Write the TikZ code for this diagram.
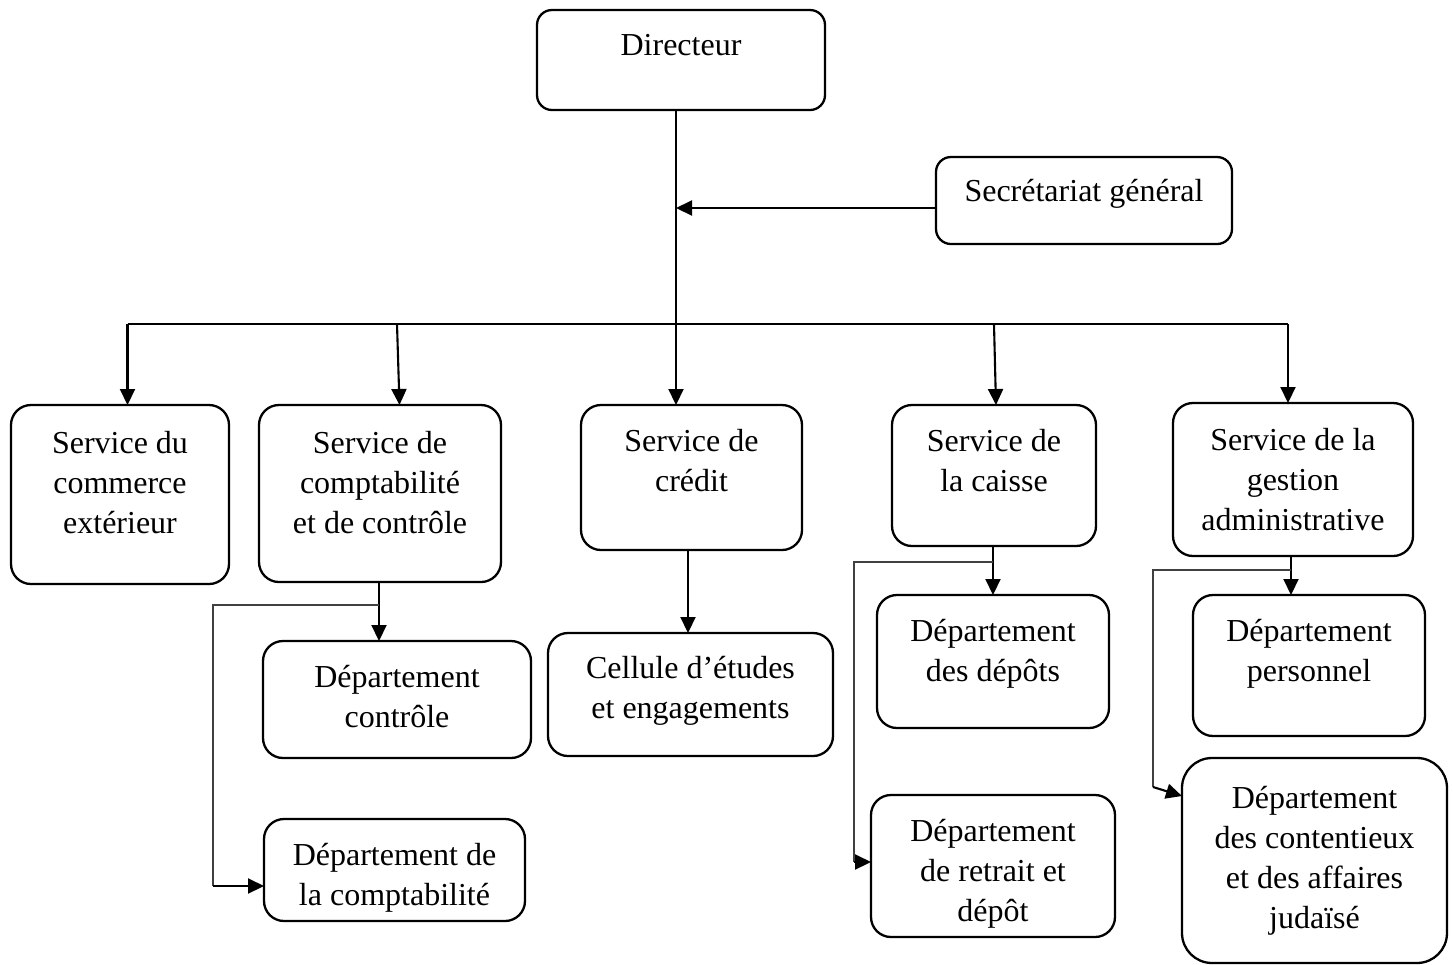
\documentclass[tikz,border=0pt]{standalone}
\usepackage{fontspec}
\setmainfont{Liberation Serif}
\usetikzlibrary{arrows.meta,calc}

% box text: width, height, top padding, lines
\newcommand\boxlines[4]{\parbox[t][#2][t]{#1}{\centering\vspace*{#3}\strut #4\par}}

\tikzset{
  orgbox/.style={draw, line width=1.15pt, rounded corners=10pt, inner sep=0pt,
                 outer sep=0pt, anchor=north west},
  link/.style={line width=1.05pt, -{Triangle[length=8pt,width=7.5pt]}},
  plain/.style={line width=1.05pt},
  feeder/.style={line width=0.6pt, draw=black!75},
}

\begin{document}
\begin{tikzpicture}[x=0.5pt, y=-0.5pt, font=\fontsize{16pt}{20pt}\selectfont]
\useasboundingbox (0,0) rectangle (1453,965);

% top level
\node[orgbox, rounded corners=7.5pt] (dir) at (537,10)
  {\boxlines{144pt}{50pt}{8.7pt}{Directeur}};
\node[orgbox, rounded corners=7.5pt] (sec) at (936,157)
  {\boxlines{148pt}{43.5pt}{8pt}{Secrétariat général}};

% services
\node[orgbox] (s1) at (11,405)
  {\boxlines{109pt}{89.5pt}{10pt}{Service du\\commerce\\extérieur}};
\node[orgbox] (s2) at (259,405)
  {\boxlines{121pt}{88.5pt}{10pt}{Service de\\comptabilité\\et de contrôle}};
\node[orgbox] (s3) at (581,405)
  {\boxlines{110.5pt}{72.5pt}{9.3pt}{Service de\\crédit}};
\node[orgbox] (s4) at (892,405)
  {\boxlines{102pt}{70.5pt}{9.3pt}{Service de\\la caisse}};
\node[orgbox] (s5) at (1173,403)
  {\boxlines{120pt}{76.5pt}{9.7pt}{Service de la\\gestion\\administrative}};

% departments
\node[orgbox] (d1) at (263,641)
  {\boxlines{134pt}{58.5pt}{9pt}{Département\\contrôle}};
\node[orgbox] (d2) at (264,819)
  {\boxlines{130.5pt}{51pt}{9pt}{Département de\\la comptabilité}};
\node[orgbox] (c1) at (548,633)
  {\boxlines{142.5pt}{61.5pt}{8.5pt}{Cellule d’études\\et engagements}};
\node[orgbox] (d3) at (877,595)
  {\boxlines{116pt}{66.5pt}{9.3pt}{Département\\des dépôts}};
\node[orgbox] (d4) at (871,795)
  {\boxlines{122pt}{71pt}{9.3pt}{Département\\de retrait et\\dépôt}};
\node[orgbox] (d5) at (1193,595)
  {\boxlines{116pt}{70.5pt}{9.3pt}{Département\\personnel}};
\node[orgbox, rounded corners=15pt] (d6) at (1182,758)
  {\boxlines{132.5pt}{102.5pt}{11pt}{Département\\des contentieux\\et des affaires\\judaïsé}};

% distribution bus
\coordinate (bus)  at (676,324);
\coordinate (busL) at (127.5,324);
\coordinate (busR) at (1288,324);
\coordinate (bus2) at (397,324);
\coordinate (bus4) at (994,324);

\draw[plain] (dir.south -| bus) -- (bus);
\draw[plain] (busL) -- (busR);
\draw[link] (bus) -- (bus |- s3.north);
\draw[link] (busL) -- (busL |- s1.north);
\draw[link] (bus2) -- ($(s2.north west)+(140.5,0)$);
\draw[link] (bus4) -- ($(s4.north west)+(104,0)$);
\draw[link] (busR) -- (busR |- s5.north);

% secretariat feeds the trunk
\coordinate (secA) at ($(sec.west)+(0,7.5)$);
\draw[link] (secA) -- (secA -| bus);

% accounting and control
\coordinate (k2) at ($(s2.south west)+(120,0)$);
\draw[link] (k2) -- (k2 |- d1.north);
\coordinate (k2a) at ($(k2)+(0,23)$);
\coordinate (k2c) at (213,886);
\draw[feeder] (k2a) -- (k2c |- k2a) -- (k2c);
\draw[link] (k2c) -- (k2c -| d2.west);

% credit
\coordinate (k3) at ($(s3.south west)+(107,0)$);
\draw[link] (k3) -- (k3 |- c1.north);

% cash desk
\coordinate (k4) at ($(s4.south west)+(101,0)$);
\draw[link] (k4) -- (k4 |- d3.north);
\coordinate (k4a) at ($(k4)+(0,16)$);
\coordinate (k4c) at (854,862);
\draw[feeder] (k4a) -- (k4c |- k4a) -- (k4c);
\draw[link] (k4c) -- (k4c -| d4.west);

% administration
\coordinate (k5) at ($(s5.south west)+(118,0)$);
\draw[link] (k5) -- (k5 |- d5.north);
\coordinate (k5a) at ($(k5)+(0,14)$);
\coordinate (k5c) at (1153,787);
\draw[feeder] (k5a) -- (k5c |- k5a) -- (k5c);
\draw[link] (k5c) -- ($(d6.north west)+(0,38)$);

\end{tikzpicture}
\end{document}
